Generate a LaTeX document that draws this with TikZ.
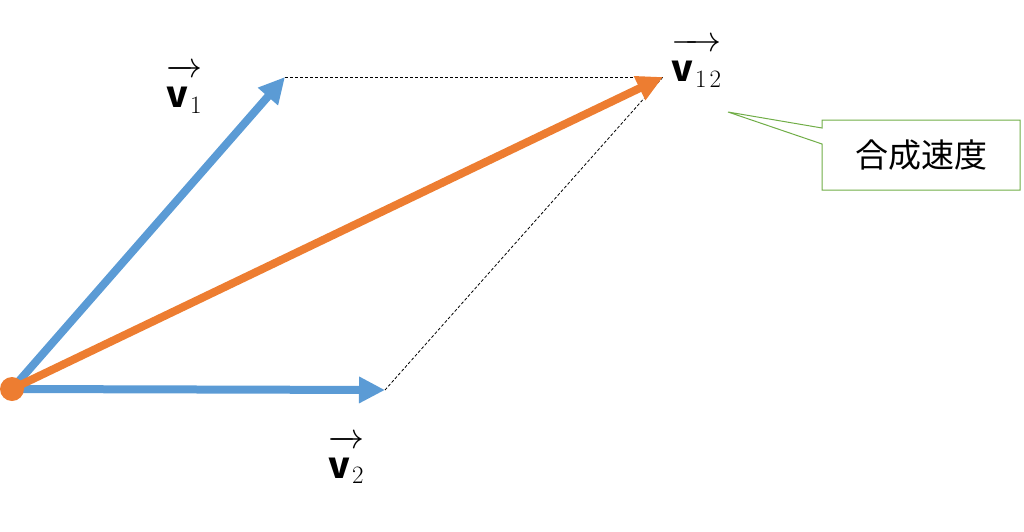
\documentclass[tikz,border=0pt]{standalone}
\usepackage{fix-cm}
\usepackage{fontspec}
\newfontfamily\cjk{Noto Sans CJK JP}
\usetikzlibrary{arrows.meta,shapes.callouts}
\definecolor{vblue}{HTML}{5B9BD5}
\definecolor{vorange}{HTML}{ED7D31}
\definecolor{vgreen}{HTML}{70AD47}
\newcommand{\vlabel}[1]{$\overrightarrow{\rule{0pt}{31pt}\mbox{\cjk\bfseries v}_{\mbox{\fontsize{25}{26}\selectfont\kern2pt#1}}}$}
\tikzset{
  vec/.style={line width=8pt,-{Triangle[length=26pt,width=25pt]}},
  guide/.style={densely dashed,line width=0.8pt},
  lbl/.style={font=\fontsize{36}{40}\selectfont,inner sep=0pt,anchor=base west},
  note/.style={rectangle callout,draw=vgreen,line width=1pt,
    minimum width=198pt,minimum height=70pt,
    font=\cjk\fontsize{33}{38}\selectfont,callout pointer width=16pt},
}
\begin{document}
\begin{tikzpicture}[x=1pt,y=-1pt]
    \useasboundingbox (0,0) rectangle (1024,532);
    %% points
    \coordinate (O) at (12,389);
    \coordinate (A) at (285,77);
    \coordinate (B) at (385,390);
    \coordinate (C) at (663,77);
    %% parallelogram guides
    \draw[guide] (A) -- (C);
    \draw[guide] (B) -- (C);
    %% component velocities
    \draw[vec,vblue] (O) -- (A);
    \draw[vec,vblue] (O) -- (B);
    %% resultant
    \draw[vec,vorange] (O) -- (C);
    \fill[vorange] (O) circle (12);
    %% labels
    \node[lbl] (v1) at (166,108) {\vlabel{1}};
    \node[lbl] (v2) at (328,478) {\vlabel{2}};
    \node[lbl] (v12) at (671,82) {\vlabel{1\kern3pt2}};
    \node[note,callout absolute pointer={(728,112)}] (sum) at (921,155) {合成速度};
\end{tikzpicture}
\end{document}
